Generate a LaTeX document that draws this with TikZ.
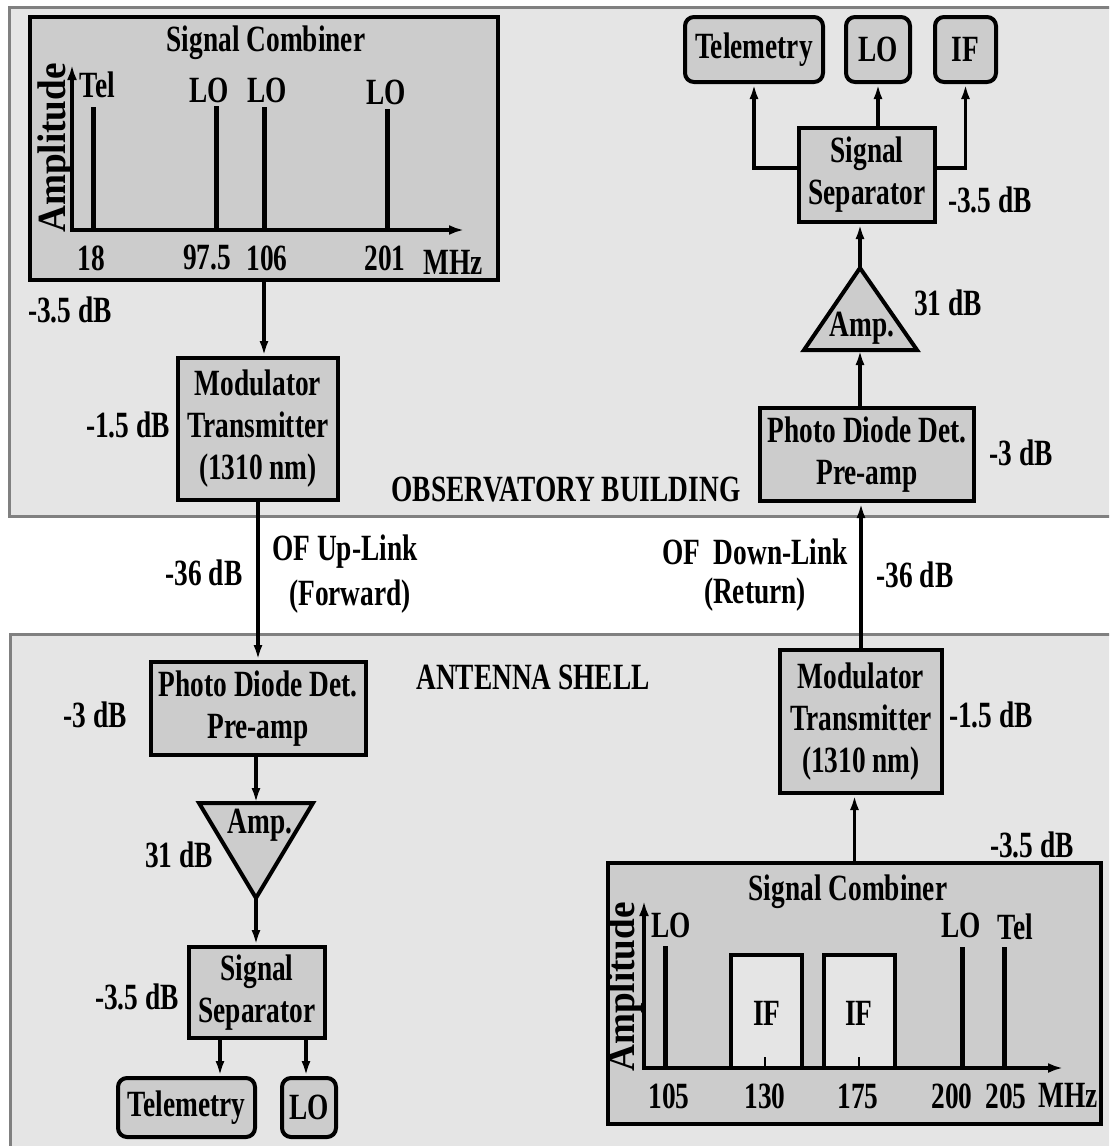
\documentclass[tikz,border=0pt]{standalone}
\usepackage{fontspec}
\setmainfont{Liberation Serif}[FakeStretch=0.74]
\newfontfamily\ampfont{Liberation Serif}[FakeStretch=0.93]
\usetikzlibrary{arrows.meta,calc}
\definecolor{regfill}{gray}{0.9}
\definecolor{regline}{gray}{0.5}
\definecolor{boxfill}{gray}{0.8}
\begin{document}
\begin{tikzpicture}[x=1pt,y=-1pt,
  every node/.style={font=\fontsize{37}{42}\selectfont\bfseries, inner sep=0pt},
  region/.style={fill=regfill, draw=regline, line width=3pt},
  box/.style={draw, fill=boxfill, line width=4pt, align=center, inner sep=0pt},
  rbox/.style={box, rounded corners=9pt},
  arr/.style={line width=3.2pt, -{Latex[length=15pt,width=9pt]}},
  axis/.style={line width=3.2pt, -{Latex[length=15pt,width=10pt]}},
  spike/.style={line width=5pt},
  tri/.style={draw, fill=boxfill, line width=4pt, line join=miter},
  ifbox/.style={draw, fill=regfill, line width=4pt},
  amplab/.style={rotate=90, font=\fontsize{40}{42}\selectfont\ampfont\bfseries}
]
\useasboundingbox (0,0) rectangle (1109,1146);
\begin{scope}
  \clip (0,0) rectangle (1109,1146);
  \draw[region] (9,7) rectangle (1130,516);
  \draw[region] (10,634) rectangle (1130,1170);
\end{scope}

% ---------------- upper-left signal combiner ----------------
\node[box, minimum width=468pt, minimum height=263pt] (comb1) at (264,148.5) {};
\node (comb1t) at (266,43) {Signal Combiner};
\draw[spike] (93,107) -- (93,230);
\draw[spike] (216,106) -- (216,230);
\draw[spike] (264,107) -- (264,230);
\draw[spike] (387,109) -- (387,230);
\draw[axis] (72,231.6) -- (72,65);
\draw[axis] (70.4,230) -- (464,230);
\node (c1tel) at (97,85) {Tel};
\node (c1lo1) at (209,90) {LO};
\node (c1lo2) at (267,90) {LO};
\node (c1lo3) at (386,92) {LO};
\node (c1f1) at (91,258) {18};
\node (c1f2) at (207,258) {97.5};
\node (c1f3) at (267,258) {106};
\node (c1f4) at (385,258) {201};
\node (c1mhz) at (453,262) {MHz};
\node[amplab] (c1amp) at (56,148) {Amplitude};
\node (g1) at (70,310) {-3.5 dB};

% ---------------- left column (up-link) ----------------
\node[box, minimum width=160pt, minimum height=142pt] (mod1) at (258,429) {Modulator\\Transmitter\\(1310 nm)};
\node (g2) at (128,425) {-1.5 dB};
\draw[arr] (comb1.south) -- (comb1.south |- mod1.north);

\node[box, minimum width=215pt, minimum height=93pt] (pd1) at (258,708.5) {Photo Diode Det.\\Pre-amp};
\node (g3) at (95,715) {-3 dB};
\draw[arr] (mod1.south) -- (pd1.north);
\node (g4) at (204,573) {-36 dB};
\node (uplink) at (345,552) {OF Up-Link};
\node (fwd) at (350,597) {(Forward)};

\coordinate (amp1n) at (256,803);
\coordinate (amp1s) at (256,898);
\draw[tri] (199,803) -- (313,803) -- (amp1s) -- cycle;
\node (amp1) at (260,825) {Amp.};
\node (g5) at (179,855) {31 dB};
\draw[arr] (pd1.south -| amp1n) -- (amp1n);

\node[box, minimum width=136pt, minimum height=91pt] (sep1) at (257,992.5) {Signal\\Separator};
\node (g6) at (137,997) {-3.5 dB};
\draw[arr] (amp1s) -- (amp1s |- sep1.north);

\node[rbox, minimum width=137pt, minimum height=59pt] (tel1) at (186.5,1107.5) {Telemetry};
\node[rbox, minimum width=54pt, minimum height=59pt] (lo1) at (309,1107.5) {LO};
\draw[arr] ([xshift=-37pt]sep1.south) -- ([xshift=-37pt]sep1.south |- tel1.north);
\draw[arr] ([xshift=49pt]sep1.south) -- ([xshift=49pt]sep1.south |- lo1.north);

\node (obs) at (566,490) {OBSERVATORY BUILDING};
\node (ant) at (533,677) {ANTENNA SHELL};

% ---------------- lower-right signal combiner ----------------
\node[box, minimum width=493pt, minimum height=261pt] (comb2) at (854.5,993.5) {};
\node (comb2t) at (848,892) {Signal Combiner};
\draw[ifbox] (731,955) rectangle (802,1068);
\draw[ifbox] (824,955) rectangle (895,1068);
\draw[line width=2.5pt] (765,1057) -- (765,1068);
\draw[line width=2.5pt] (859,1057) -- (859,1068);
\draw[spike] (665,946) -- (665,1068);
\draw[spike] (962,947) -- (962,1068);
\draw[spike] (1004,947) -- (1004,1068);
\draw[axis] (644,1069.6) -- (644,901);
\draw[axis] (642.4,1068) -- (1063,1068);
\node (c2lo1) at (671,925) {LO};
\node (c2if1) at (767,1013) {IF};
\node (c2if2) at (859,1013) {IF};
\node (c2lo2) at (961,925) {LO};
\node (c2tel) at (1015,927) {Tel};
\node (c2f1) at (669,1096) {105};
\node (c2f2) at (765,1096) {130};
\node (c2f3) at (858,1096) {175};
\node (c2f4) at (952,1096) {200};
\node (c2f5) at (1006,1096) {205};
\node (c2mhz) at (1068,1095) {MHz};
\node[amplab] (c2amp) at (625,987) {Amplitude};
\node (g7) at (1032,845) {-3.5 dB};

% ---------------- right column (down-link) ----------------
\node[box, minimum width=162pt, minimum height=143pt] (mod2) at (861,721.5) {Modulator\\Transmitter\\(1310 nm)};
\node (g8) at (991,715) {-1.5 dB};
\draw[arr] (comb2.north) -- (comb2.north |- mod2.south);

\node[box, minimum width=214pt, minimum height=93pt] (pd2) at (867,454.5) {Photo Diode Det.\\Pre-amp};
\node (g9) at (1021,453) {-3 dB};
\draw[arr] (mod2.north) -- (mod2.north |- pd2.south);
\node (g10) at (915,575) {-36 dB};
\node (downlink) at (755,552) {OF~~Down-Link};
\node (ret) at (755,595) {(Return)};

\coordinate (amp2s) at (860,350);
\coordinate (amp2n) at (860,268);
\draw[tri] (804,350) -- (917,350) -- (amp2n) -- cycle;
\node (amp2) at (862,328) {Amp.};
\node (g11) at (948,303) {31 dB};
\draw[arr] (pd2.north -| amp2s) -- (amp2s);

\node[box, minimum width=136pt, minimum height=94pt] (sep2) at (867,175) {Signal\\Separator};
\node (g12) at (990,200) {-3.5 dB};
\draw[arr] (amp2n) -- (amp2n |- sep2.south);

\node[rbox, minimum width=138pt, minimum height=65pt] (tel2) at (754,49.5) {Telemetry};
\node[rbox, minimum width=64pt, minimum height=65pt] (lo2) at (878,49.5) {LO};
\node[rbox, minimum width=61pt, minimum height=65pt] (if2) at (965.5,49.5) {IF};
\draw[arr] ([yshift=7pt]sep2.west) -| (tel2.south);
\draw[arr] (sep2.north -| lo2.south) -- (lo2.south);
\draw[arr] ([yshift=7pt]sep2.east) -| (if2.south);
\end{tikzpicture}
\end{document}
